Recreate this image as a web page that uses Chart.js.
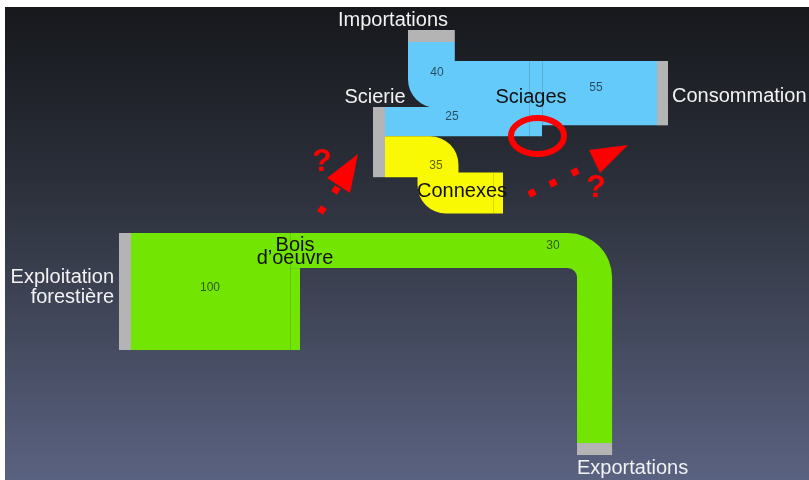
<!DOCTYPE html>
<html lang="fr">
<head>
<meta charset="utf-8">
<title>Filière bois</title>
<script src="https://cdn.jsdelivr.net/npm/chart.js@4.4.1/dist/chart.umd.min.js"></script>
<style>
html, body { margin: 0; padding: 0; background: #fff; }
#wrap { width: 809px; height: 480px; }
</style>
</head>
<body>
<div id="wrap"><canvas id="myChart" width="809" height="480"></canvas></div>
<script>
'use strict';
// data
let nodeNames = ['Exploitation\nforestière', 'Importations', 'Scierie', 'Consommation', 'Exportations'];
let nodeValues = [100, 40, 60, 55, 30];
let flowNames = ['Bois d’oeuvre', 'Exportations', 'Importations', 'Sciages', 'Connexes', 'Consommation'];
let flowValues = [100, 30, 40, 25, 35, 55];
let flowLabels = ['100', '30', '40', '25', '35', '55'];

// layout (chart units, 1 flow unit = K chart units)
let K = 1.17;
let NODE_T = 12;
let nodeLayout = [
    { x: 119, y: 233, dir: 'v' },
    { x: 408, y: 30, dir: 'h' },
    { x: 373, y: 107, dir: 'v' },
    { x: 657, y: 61, dir: 'v', t: 11 },
    { x: 577, y: 443, dir: 'h' }
];
let green = '#73e502';
let blue = '#64caf9';
let yellow = '#f9f904';
let gray = '#b4b4b4';

function w(v) { return v * K; }

function buildFlows() {
    let ex = nodeLayout[0], im = nodeLayout[1], sc = nodeLayout[2], co = nodeLayout[3], xp = nodeLayout[4];
    let stub = flowValues[0] - flowValues[1];
    return [
        { v: flowValues[0], color: green, rc: 0,
          pts: [[ex.x + NODE_T, ex.y + w(flowValues[0]) / 2], [290, ex.y + w(flowValues[0]) / 2]],
          label: [210, 288] },
        { v: flowValues[1], color: green, rc: 27,
          pts: [[289, ex.y + w(flowValues[1]) / 2], [xp.x + w(flowValues[1]) / 2, ex.y + w(flowValues[1]) / 2], [xp.x + w(flowValues[1]) / 2, xp.y]],
          label: [553, 246] },
        { v: stub, color: green, rc: 0, nolabel: true,
          pts: [[289, ex.y + w(flowValues[1]) + w(stub) / 2], [300, ex.y + w(flowValues[1]) + w(stub) / 2]] },
        { v: flowValues[2], color: blue, rc: 5,
          pts: [[im.x + w(flowValues[2]) / 2, im.y + NODE_T], [im.x + w(flowValues[2]) / 2, co.y + w(flowValues[2]) / 2], [542, co.y + w(flowValues[2]) / 2]],
          label: [437, 73] },
        { v: flowValues[3], color: blue, rc: 0,
          pts: [[sc.x + NODE_T, sc.y + w(flowValues[3]) / 2], [542, sc.y + w(flowValues[3]) / 2]],
          label: [452, 117] },
        { v: flowValues[4], color: yellow, rc: 8,
          pts: [[sc.x + NODE_T, sc.y + w(flowValues[3]) + w(flowValues[4]) / 2], [438, sc.y + w(flowValues[3]) + w(flowValues[4]) / 2], [438, 193], [503, 193]],
          label: [436, 166] },
        { v: flowValues[5], color: blue, rc: 0,
          pts: [[541, co.y + w(flowValues[5]) / 2], [co.x, co.y + w(flowValues[5]) / 2]],
          label: [596, 88] }
    ];
}

let dividers = [
    { x: 290, y0: 233, y1: 350 },
    { x: 529, y0: 61, y1: 137 },
    { x: 542, y0: 61, y1: 125 },
    { x: 493, y0: 173, y1: 213 }
];

let texts = [
    { t: 'Importations', x: 393, y: 26, c: '#f2f2f2', align: 'center' },
    { t: 'Scierie', x: 375, y: 103, c: '#f2f2f2', align: 'center' },
    { t: 'Sciages', x: 531, y: 103, c: '#111', align: 'center' },
    { t: 'Consommation', x: 672, y: 102, c: '#f2f2f2', align: 'left' },
    { t: 'Connexes', x: 462, y: 197, c: '#111', align: 'center' },
    { t: 'Bois', x: 295, y: 251, c: '#111', align: 'center' },
    { t: 'd’oeuvre', x: 295, y: 264, c: '#111', align: 'center' },
    { t: 'Exploitation', x: 114, y: 283, c: '#f2f2f2', align: 'right' },
    { t: 'forestière', x: 114, y: 303, c: '#f2f2f2', align: 'right' },
    { t: 'Exportations', x: 577, y: 474, c: '#f2f2f2', align: 'left' }
];

let marks = {
    ellipse: { x: 537.5, y: 136, rx: 26.5, ry: 18 },
    arrows: [
        { head: [[358, 154], [327, 178], [350, 193]], dots: [[322, 210], [336, 190]], q: [322, 162] },
        { head: [[628, 145], [589, 150], [600, 173]], dots: [[532, 193], [553, 183], [575, 172]], q: [596, 188] }
    ]
};

function bandOutline(pts, thick, rc) {
    let d = thick / 2;
    let n = pts.length;
    let dirs = [];
    for (let i = 0; i < n - 1; i++) {
        let dx = pts[i + 1][0] - pts[i][0], dy = pts[i + 1][1] - pts[i][1];
        let l = Math.hypot(dx, dy);
        dirs.push([dx / l, dy / l]);
    }
    let A = [], B = [], rA = [], rB = [];
    for (let i = 0; i < n; i++) {
        let nx = 0, ny = 0;
        if (i > 0) { nx += dirs[i - 1][1]; ny -= dirs[i - 1][0]; }
        if (i < n - 1) { nx += dirs[i][1]; ny -= dirs[i][0]; }
        A.push([pts[i][0] + d * nx, pts[i][1] + d * ny]);
        B.push([pts[i][0] - d * nx, pts[i][1] - d * ny]);
        if (i > 0 && i < n - 1) {
            let cross = dirs[i - 1][0] * dirs[i][1] - dirs[i - 1][1] * dirs[i][0];
            let outer = rc + d, inner = Math.max(rc - d, 0);
            rA.push(cross > 0 ? outer : inner);
            rB.push(cross > 0 ? inner : outer);
        } else {
            rA.push(0);
            rB.push(0);
        }
    }
    return { A, B, rA, rB };
}

let sankeyPlugin = {
    id: 'sankeyDraw',
    beforeDraw(chart) {
        let ctx = chart.ctx;
        ctx.save();
        ctx.fillStyle = '#ffffff';
        ctx.fillRect(0, 0, chart.width, chart.height);
        let g = ctx.createLinearGradient(0, 7, 0, chart.height);
        g.addColorStop(0, '#16181c');
        g.addColorStop(0.35, '#2a2e38');
        g.addColorStop(0.7, '#444a5e');
        g.addColorStop(1, '#5a6281');
        ctx.fillStyle = g;
        ctx.fillRect(5, 7, chart.width - 5, chart.height - 7);
        ctx.restore();
    },
    afterDatasetsDraw(chart) {
        let ctx = chart.ctx;
        let xs = chart.scales.x, ys = chart.scales.y;
        let P = p => [xs.getPixelForValue(p[0]), ys.getPixelForValue(p[1])];
        let L = v => Math.abs(xs.getPixelForValue(v) - xs.getPixelForValue(0));
        ctx.save();

        let flows = buildFlows();
        flows.forEach(f => {
            let o = bandOutline(f.pts, w(f.v), f.rc);
            let n = f.pts.length;
            ctx.beginPath();
            let p = P(o.A[0]);
            ctx.moveTo(p[0], p[1]);
            for (let i = 1; i < n - 1; i++) {
                let a = P(o.A[i]), b = P(o.A[i + 1]);
                ctx.arcTo(a[0], a[1], b[0], b[1], L(o.rA[i]));
            }
            p = P(o.A[n - 1]); ctx.lineTo(p[0], p[1]);
            p = P(o.B[n - 1]); ctx.lineTo(p[0], p[1]);
            for (let i = n - 2; i >= 1; i--) {
                let a = P(o.B[i]), b = P(o.B[i - 1]);
                ctx.arcTo(a[0], a[1], b[0], b[1], L(o.rB[i]));
            }
            p = P(o.B[0]); ctx.lineTo(p[0], p[1]);
            ctx.closePath();
            ctx.fillStyle = f.color;
            ctx.fill();
        });

        // seams
        ctx.strokeStyle = 'rgba(0,0,0,0.13)';
        ctx.lineWidth = 1;
        dividers.forEach(dv => {
            let a = P([dv.x, dv.y0]), b = P([dv.x, dv.y1]);
            ctx.beginPath();
            ctx.moveTo(Math.round(a[0]) + 0.5, a[1]);
            ctx.lineTo(Math.round(b[0]) + 0.5, b[1]);
            ctx.stroke();
        });

        // nodes
        ctx.fillStyle = gray;
        nodeLayout.forEach((nd, i) => {
            let t = nd.t || NODE_T;
            let a = P([nd.x, nd.y]);
            let b = nd.dir === 'v' ? P([nd.x + t, nd.y + w(nodeValues[i])]) : P([nd.x + w(nodeValues[i]), nd.y + t]);
            ctx.fillRect(a[0], a[1], b[0] - a[0], b[1] - a[1]);
        });

        // value labels
        ctx.font = '12px "Liberation Sans", Arial, sans-serif';
        ctx.textAlign = 'center';
        ctx.textBaseline = 'middle';
        ctx.fillStyle = 'rgba(0,0,0,0.62)';
        flows.forEach(f => {
            if (f.nolabel) return;
            let p = P(f.label);
            ctx.fillText(flowLabels[flowValues.indexOf(f.v)], p[0], p[1]);
        });

        // names
        ctx.font = '20px "Liberation Sans", Arial, sans-serif';
        ctx.textBaseline = 'alphabetic';
        texts.forEach(tx => {
            let p = P([tx.x, tx.y]);
            ctx.textAlign = tx.align;
            ctx.fillStyle = tx.c;
            ctx.fillText(tx.t, p[0], p[1]);
        });

        // red annotations
        ctx.strokeStyle = '#ff0000';
        ctx.fillStyle = '#ff0000';
        ctx.lineWidth = 6;
        let e = marks.ellipse, c = P([e.x, e.y]);
        ctx.beginPath();
        ctx.ellipse(c[0], c[1], L(e.rx), L(e.ry), 0, 0, Math.PI * 2);
        ctx.stroke();
        marks.arrows.forEach(ar => {
            ctx.beginPath();
            ar.head.forEach((pt, i) => {
                let q = P(pt);
                if (i === 0) ctx.moveTo(q[0], q[1]); else ctx.lineTo(q[0], q[1]);
            });
            ctx.closePath();
            ctx.fill();
            let d0 = ar.dots[0], d1 = ar.head[0];
            let ang = Math.atan2(d1[1] - d0[1], d1[0] - d0[0]);
            ar.dots.forEach(pt => {
                let q = P(pt);
                ctx.save();
                ctx.translate(q[0], q[1]);
                ctx.rotate(ang);
                ctx.fillRect(-3.5, -3.5, 7, 7);
                ctx.restore();
            });
            let q = P(ar.q);
            ctx.font = 'bold 32px "Liberation Sans", Arial, sans-serif';
            ctx.textAlign = 'center';
            ctx.textBaseline = 'middle';
            ctx.fillText('?', q[0], q[1]);
        });
        ctx.restore();
    }
};

let ctx = document.getElementById('myChart').getContext('2d');
let myChart = new Chart(ctx, {
    type: 'scatter',
    data: {
        labels: nodeNames,
        datasets: [{
            label: 'noeuds',
            data: nodeLayout.map(nd => ({ x: nd.x, y: nd.y })),
            pointRadius: 0,
            pointHoverRadius: 0
        }]
    },
    options: {
        responsive: false,
        animation: false,
        devicePixelRatio: 1,
        layout: { padding: 0 },
        plugins: { legend: { display: false }, tooltip: { enabled: false } },
        events: [],
        scales: {
            x: { type: 'linear', min: 0, max: 809, display: false },
            y: { type: 'linear', min: 0, max: 480, reverse: true, display: false }
        }
    },
    plugins: [sankeyPlugin]
});
</script>
</body>
</html>
